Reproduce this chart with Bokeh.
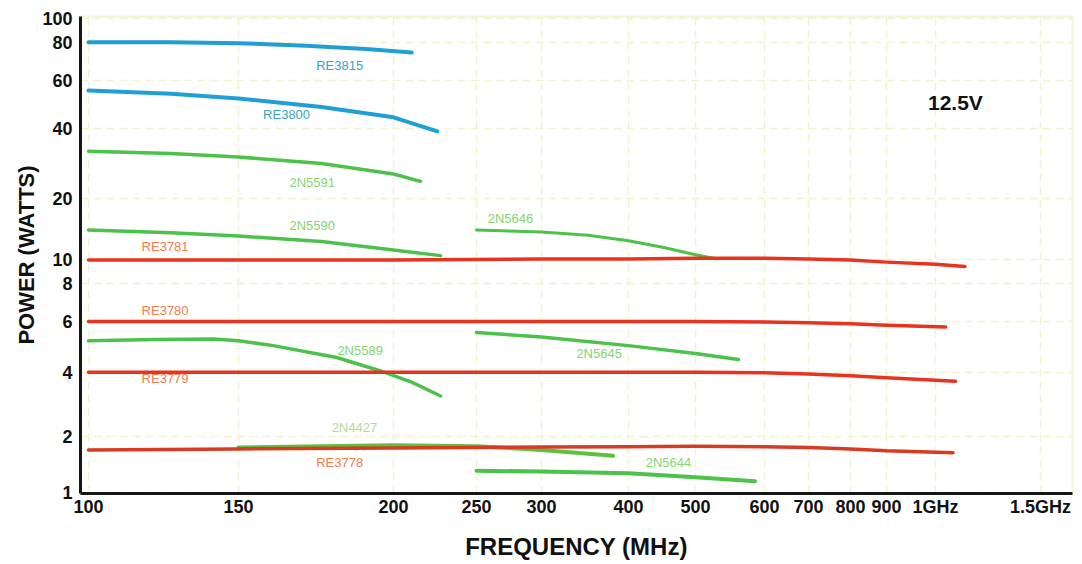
import numpy as np
from bokeh.plotting import figure
from bokeh.models import FixedTicker, Range1d, Label
from bokeh.core.properties import value
from bokeh.embed import file_html
from bokeh.resources import INLINE

# ---------------- axis ticks (printed, non-uniform scales) ----------------
x_tick_mhz = [100, 150, 200, 250, 300, 400, 500, 600, 700, 800, 900, 1000, 1500]
x_tick_labels = ["100", "150", "200", "250", "300", "400", "500", "600",
                 "700", "800", "900", "1GHz", "1.5GHz"]
y_tick_watts = [1, 2, 4, 6, 8, 10, 20, 40, 60, 80, 100]
y_tick_labels = ["1", "2", "4", "6", "8", "10", "20", "40", "60", "80", "100"]

# where each printed tick sits along the axis (layout of the printed scale)
x_tick_pos = [8, 158, 313, 396, 461, 548, 615, 684, 728, 770, 806, 855, 960]
y_tick_pos = [1, 57, 122, 173, 211, 235, 297, 367, 416, 454, 478]

# ---------------- data (MHz, watts) ----------------
re3815_f = [100, 125, 150, 170, 190, 210]
re3815_w = [80, 80, 79.5, 78, 76, 74]

re3800_f = [100, 125, 150, 175, 200, 225]
re3800_w = [55, 53.5, 51.5, 48, 44, 39]

n5591_f = [100, 125, 150, 175, 200, 215]
n5591_w = [32, 31.3, 30.2, 28.3, 25.5, 23.7]

n5590_f = [100, 125, 150, 175, 200, 227]
n5590_w = [14, 13.6, 13.1, 12.3, 11.2, 10.5]

re3781_f = [100, 200, 300, 400, 500, 600, 700, 800, 900, 1000, 1120]
re3781_w = [10, 10, 10.1, 10.1, 10.2, 10.2, 10.1, 10, 9.8, 9.6, 9.4]

n5646_f = [250, 300, 350, 400, 450, 500, 530]
n5646_w = [14, 13.7, 13.2, 12.4, 11.5, 10.6, 10.1]

re3780_f = [100, 300, 500, 600, 700, 800, 900, 1040]
re3780_w = [6, 6, 6, 5.98, 5.95, 5.9, 5.83, 5.75]

n5589_f = [100, 120, 140, 150, 160, 180, 195, 210, 227]
n5589_w = [5.15, 5.2, 5.22, 5.15, 4.95, 4.5, 4.05, 3.6, 3.1]

n5645_f = [250, 300, 400, 500, 560]
n5645_w = [5.5, 5.3, 4.95, 4.65, 4.43]

re3779_f = [100, 300, 500, 600, 700, 800, 900, 1080]
re3779_w = [4, 4, 4, 3.98, 3.93, 3.85, 3.77, 3.63]

n4427_f = [150, 175, 200, 250, 300, 380]
n4427_w = [1.75, 1.78, 1.8, 1.78, 1.7, 1.58]

re3778_f = [100, 150, 200, 300, 400, 500, 600, 700, 800, 900, 1070]
re3778_w = [1.70, 1.72, 1.74, 1.76, 1.77, 1.78, 1.77, 1.75, 1.72, 1.68, 1.64]

n5644_f = [250, 300, 400, 500, 585]
n5644_w = [1.31, 1.30, 1.27, 1.21, 1.15]

# curve label anchors (MHz, watts)
label_names = ["RE3815", "RE3800", "2N5591", "2N5590", "RE3781", "2N5646", "RE3780",
               "2N5589", "2N5645", "RE3779", "2N4427", "RE3778", "2N5644"]
label_f = [181, 164, 172, 172, 123, 275, 123, 188, 363, 123, 186, 181, 457]
label_w = [67, 44.9, 23.4, 14.8, 11.7, 16.0, 6.52, 4.76, 4.65, 3.75, 2.2, 1.45, 1.45]

BLUE, GREEN, RED = "#1f9fd6", "#4cc24a", "#e8331f"
BLUE_T, GREEN_T, RED_T = "#3aa5bd", "#84d670", "#f07d4c"


def fx(mhz):
    return np.interp(np.log10(mhz), np.log10(x_tick_mhz), x_tick_pos)


def fy(w):
    return np.interp(np.log10(w), np.log10(y_tick_watts), y_tick_pos)


p = figure(width=1080, height=562, output_backend="svg", toolbar_location=None,
           x_range=Range1d(0, 992), y_range=Range1d(0, 480),
           min_border_left=80, min_border_right=8, min_border_top=16, min_border_bottom=66)
p.background_fill_color = "white"
p.outline_line_color = "#f3f4d6"
p.outline_line_width = 2

series = [
    (re3815_f, re3815_w, BLUE, 4), (re3800_f, re3800_w, BLUE, 4),
    (n5591_f, n5591_w, GREEN, 3.5), (n5590_f, n5590_w, GREEN, 3.5),
    (n5646_f, n5646_w, GREEN, 3), (n5589_f, n5589_w, GREEN, 3.5),
    (n5645_f, n5645_w, GREEN, 3.5), (n4427_f, n4427_w, "#5cc040", 4),
    (n5644_f, n5644_w, GREEN, 4),
    (re3781_f, re3781_w, RED, 3.5), (re3780_f, re3780_w, RED, 3.5),
    (re3779_f, re3779_w, RED, 3.5), (re3778_f, re3778_w, "#d83a22", 3.5),
]
for f, w, c, lw in series:
    p.line(fx(f), fy(w), line_color=c, line_width=lw, line_cap="round", line_join="round")

label_colors = []
for n in label_names:
    if n.startswith("RE38"):
        label_colors.append(BLUE_T)
    elif n.startswith("RE"):
        label_colors.append(RED_T)
    elif n == "2N4427":
        label_colors.append("#b2dc98")
    else:
        label_colors.append(GREEN_T)

p.text(x=fx(label_f), y=fy(label_w), text=label_names, text_color=label_colors,
       text_font=value("Liberation Sans"), text_font_size="13px",
       text_align="center", text_baseline="middle")

p.add_layout(Label(x=fx(1080), y=fy(49.6), text="12.5V", text_font="Liberation Sans",
                   text_font_style="bold", text_font_size="21px", text_color="#111111",
                   text_align="center", text_baseline="middle"))

# axes
p.xaxis.ticker = FixedTicker(ticks=x_tick_pos)
p.xaxis.major_label_overrides = {float(k): v for k, v in zip(x_tick_pos, x_tick_labels)}
p.yaxis.ticker = FixedTicker(ticks=y_tick_pos)
p.yaxis.major_label_overrides = {float(k): v for k, v in zip(y_tick_pos, y_tick_labels)}

for ax in (p.xaxis[0], p.yaxis[0]):
    ax.axis_line_color = "#161616"
    ax.axis_line_width = 3
    ax.major_tick_line_color = None
    ax.minor_tick_line_color = None
    ax.major_tick_out = 0
    ax.major_tick_in = 0
    ax.minor_tick_out = 0
    ax.minor_tick_in = 0
    ax.major_label_text_font = "Liberation Sans"
    ax.major_label_text_font_style = "bold"
    ax.major_label_text_font_size = "18px"
    ax.major_label_text_color = "#111111"
    ax.axis_label_text_font = "Liberation Sans"
    ax.axis_label_text_font_style = "bold"
    ax.axis_label_text_color = "#111111"

p.xaxis.axis_label = "FREQUENCY (MHz)"
p.xaxis.axis_label_text_font_size = "24px"
p.xaxis.major_label_standoff = 3
p.xaxis.axis_label_standoff = 13
p.yaxis.axis_label = "POWER (WATTS)"
p.yaxis.axis_label_text_font_size = "22px"
p.yaxis.major_label_standoff = 8
p.yaxis.axis_label_standoff = 0

p.xgrid.grid_line_color = "#f0f2d0"
p.xgrid.grid_line_dash = "8 5"
p.xgrid.grid_line_width = 1.5
p.ygrid.grid_line_color = "#f0f2d0"
p.ygrid.grid_line_dash = "8 5"
p.ygrid.grid_line_width = 1.5

open("out.html", "w").write(file_html(p, INLINE))
